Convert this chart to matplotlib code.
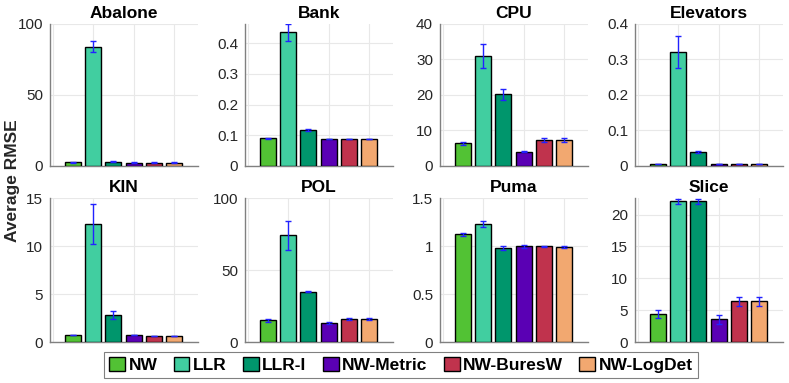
import matplotlib
matplotlib.use('Agg')

import numpy as np
import matplotlib.pyplot as plt
from matplotlib.patches import Patch

plt.rcParams['font.family'] = ['Liberation Sans', 'DejaVu Sans']

methods = ['NW', 'LLR', 'LLR-I', 'NW-Metric', 'NW-BuresW', 'NW-LogDet']
colors = ['#52C234', '#41CEA0', '#00966C', '#5A00B4', '#C0334D', '#F2A870']

datasets = ['Abalone', 'Bank', 'CPU', 'Elevators', 'KIN', 'POL', 'Puma', 'Slice']

abalone = [2.5, 84.0, 3.0, 2.3, 2.3, 2.3]
abalone_err = [0.2, 4.0, 0.3, 0.2, 0.2, 0.2]
bank = [0.090, 0.435, 0.118, 0.088, 0.088, 0.088]
bank_err = [0.002, 0.027, 0.003, 0.001, 0.001, 0.001]
cpu = [6.4, 31.0, 20.2, 4.0, 7.3, 7.3]
cpu_err = [0.5, 3.5, 1.5, 0.1, 0.6, 0.6]
elevators = [0.006, 0.320, 0.040, 0.006, 0.006, 0.006]
elevators_err = [0.0005, 0.045, 0.002, 0.0005, 0.0005, 0.0005]
kin = [0.75, 12.3, 2.8, 0.70, 0.65, 0.65]
kin_err = [0.02, 2.1, 0.45, 0.02, 0.02, 0.02]
pol = [15.0, 74.0, 35.0, 13.5, 16.0, 16.0]
pol_err = [1.0, 10.0, 0.5, 0.7, 1.0, 0.8]
puma = [1.12, 1.23, 0.98, 0.995, 0.995, 0.99]
puma_err = [0.02, 0.03, 0.02, 0.015, 0.01, 0.01]
slice_ = [4.4, 22.1, 22.1, 3.6, 6.4, 6.4]
slice_err = [0.7, 0.4, 0.4, 0.7, 0.7, 0.7]

values = [abalone, bank, cpu, elevators, kin, pol, puma, slice_]
errors = [abalone_err, bank_err, cpu_err, elevators_err, kin_err, pol_err, puma_err, slice_err]

y_limits = [(0, 100), (0, 0.462), (0, 40), (0, 0.4), (0, 15), (0, 100), (0, 1.5), (0, 22.6)]
y_ticks = [
    [0, 50, 100],
    [0, 0.1, 0.2, 0.3, 0.4],
    [0, 10, 20, 30, 40],
    [0, 0.1, 0.2, 0.3, 0.4],
    [0, 5, 10, 15],
    [0, 50, 100],
    [0, 0.5, 1, 1.5],
    [0, 5, 10, 15, 20],
]
y_ticklabels = [
    ['0', '50', '100'],
    ['0', '0.1', '0.2', '0.3', '0.4'],
    ['0', '10', '20', '30', '40'],
    ['0', '0.1', '0.2', '0.3', '0.4'],
    ['0', '5', '10', '15'],
    ['0', '50', '100'],
    ['0', '0.5', '1', '1.5'],
    ['0', '5', '10', '15', '20'],
]

W, H = 789, 383
fig = plt.figure(figsize=(W / 100, H / 100), dpi=100)
fig.patch.set_facecolor('white')

col_left = [50, 245, 440, 635]
rows = [(24, 166), (198, 342)]
ax_w = 148

x = np.arange(1, 7)
for i, name in enumerate(datasets):
    r, c = divmod(i, 4)
    top, bot = rows[r]
    ax = fig.add_axes([col_left[c] / W, 1 - bot / H, ax_w / W, (bot - top) / H])
    ax.bar(x, values[i], width=0.8, color=colors, edgecolor='black',
           linewidth=1.0, zorder=3)
    ax.errorbar(x, values[i], yerr=errors[i], fmt='none', ecolor='#2222FF',
                elinewidth=1.0, capsize=2.5, capthick=1.0, zorder=4)
    ax.set_xlim(-0.15, 7.2)
    ax.set_ylim(*y_limits[i])
    ax.set_yticks(y_ticks[i])
    ax.set_yticklabels(y_ticklabels[i])
    ax.set_xticks([0, 2, 4, 6])
    ax.set_xticklabels([])
    ax.tick_params(axis='x', length=0)
    ax.tick_params(axis='y', length=0, labelsize=11, colors='#262626', pad=5)
    ax.grid(True, color='#E8E8E8', linewidth=0.8, zorder=0)
    ax.set_axisbelow(True)
    for s in ['top', 'right']:
        ax.spines[s].set_visible(False)
    for s in ['left', 'bottom']:
        ax.spines[s].set_color('#808080')
        ax.spines[s].set_linewidth(1.0)
    ax.set_title(name, fontsize=12.5, fontweight='bold', pad=4)

fig.text(13 / W, 1 - 181 / H, 'Average RMSE', rotation=90, fontsize=12.5,
         fontweight='bold', ha='center', va='center', color='#262626')

handles = [Patch(facecolor=col, edgecolor='black', linewidth=1.0) for col in colors]
leg = fig.legend(handles, methods, loc='center', ncol=6,
                 bbox_to_anchor=(401 / W, 1 - 365 / H),
                 prop={'weight': 'bold', 'size': 12.5},
                 handlelength=0.9, handleheight=0.9, handletextpad=0.2,
                 columnspacing=0.95, borderpad=0.3, borderaxespad=0,
                 fancybox=False, edgecolor='#808080', framealpha=1)
leg.get_frame().set_linewidth(0.8)

fig.savefig('out.png', dpi=100, facecolor='white')
